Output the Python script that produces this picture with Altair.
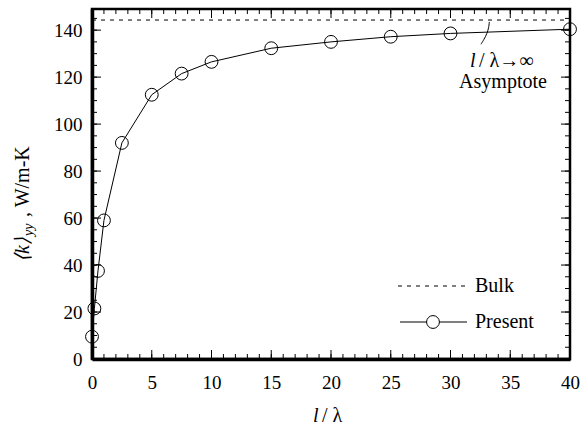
import altair as alt
import pandas as pd

# ---- data ----
ratio = [0, 0.2, 0.5, 1, 2.5, 5, 7.5, 10, 15, 20, 25, 30, 40]
k_present = [9.5, 21.5, 37.5, 59, 92, 112.5, 121.5, 126.5, 132.3, 135, 137.2, 138.6, 140.4]
k_bulk = 144.3
x_tick_labels = [0, 5, 10, 15, 20, 25, 30, 35, 40]
y_tick_labels = [0, 20, 40, 60, 80, 100, 120, 140]
x_minor = [v for v in range(1, 40)]
y_minor = [v for v in range(5, 149, 5)]
asym_x = [33.25, 33.2, 33.05, 32.8, 32.55]
asym_y = [143.5, 141.0, 138.5, 136.0, 134.0]

FONT = "Liberation Serif"
W, H = 478, 350

xscale = alt.Scale(domain=[0, 40], nice=False, zero=False)
yscale = alt.Scale(domain=[0, 149], nice=False, zero=False)
x_axis = alt.Axis(values=x_tick_labels, ticks=False, grid=False, title=None,
                  domain=True, domainColor="black", domainWidth=3.5,
                  labelFont=FONT, labelFontSize=19, labelColor="black",
                  labelPadding=29, labelBaseline="alphabetic", labelFlush=False)
y_axis = alt.Axis(values=y_tick_labels, ticks=False, grid=False, title=None,
                  domain=True, domainColor="black", domainWidth=3.5,
                  labelFont=FONT, labelFontSize=19, labelColor="black",
                  labelPadding=10, labelBaseline="middle", labelFlush=False)
X = alt.X("x:Q", scale=xscale, axis=x_axis)
Y = alt.Y("y:Q", scale=yscale, axis=y_axis)

present_df = pd.DataFrame({"x": ratio, "y": k_present})
bulk_df = pd.DataFrame({"x": [0], "x2": [40], "y": [k_bulk]})
asym_df = pd.DataFrame({"x": asym_x, "y": asym_y})
xt = pd.DataFrame({"x": x_minor, "len": [9 if v % 5 == 0 else 5 for v in x_minor]})
yt = pd.DataFrame({"y": y_minor, "len": [9 if v % 20 == 0 else 5 for v in y_minor]})
one = pd.DataFrame({"a": [0]})

bulk = alt.Chart(bulk_df).mark_rule(color="black", strokeWidth=1, strokeDash=[4, 5]).encode(
    x=X, x2="x2:Q", y=Y)
line = alt.Chart(present_df).mark_line(color="black", strokeWidth=1).encode(x=X, y=Y)
pts = alt.Chart(present_df).mark_point(shape="circle", filled=False, color="black",
                                        size=165, strokeWidth=1, opacity=1).encode(x=X, y=Y)
asym = alt.Chart(asym_df).mark_line(color="black", strokeWidth=1, interpolate="basis").encode(
    x=X, y=Y, order=alt.Order("y:Q"))

# inside ticks on all four sides
xt_bot = alt.Chart(xt).mark_rule(color="black", strokeWidth=1).encode(
    x=X, y=alt.value(H), y2=alt.value(H - 5))
xt_bot_major = alt.Chart(xt[xt["len"] == 9]).mark_rule(color="black", strokeWidth=1).encode(
    x=X, y=alt.value(H), y2=alt.value(H - 9))
xt_top = alt.Chart(xt).mark_rule(color="black", strokeWidth=1).encode(
    x=X, y=alt.value(0), y2=alt.value(5))
xt_top_major = alt.Chart(xt[xt["len"] == 9]).mark_rule(color="black", strokeWidth=1).encode(
    x=X, y=alt.value(0), y2=alt.value(9))
yt_left = alt.Chart(yt).mark_rule(color="black", strokeWidth=1).encode(
    y=Y, x=alt.value(0), x2=alt.value(5))
yt_left_major = alt.Chart(yt[yt["len"] == 9]).mark_rule(color="black", strokeWidth=1).encode(
    y=Y, x=alt.value(0), x2=alt.value(9))
yt_right = alt.Chart(yt).mark_rule(color="black", strokeWidth=1).encode(
    y=Y, x=alt.value(W), x2=alt.value(W - 5))
yt_right_major = alt.Chart(yt[yt["len"] == 9]).mark_rule(color="black", strokeWidth=1).encode(
    y=Y, x=alt.value(W), x2=alt.value(W - 9))

def txt(s, x, y, size=20, italic=False, align="left", angle=0):
    kw = dict(text=s, font=FONT, fontSize=size, color="black", align=align,
              baseline="alphabetic")
    if italic:
        kw["fontStyle"] = "italic"
    if angle:
        kw["angle"] = angle
    return alt.Chart(one).mark_text(**kw).encode(x=alt.value(x), y=alt.value(y))

# axis titles
xtitle = txt("l", 221, 413, italic=True) + txt("/ λ", 230, 413)
ytitle = (txt("⟨k⟩", -63, 253, italic=True, angle=270)
          + txt("yy", -59, 227, size=14, italic=True, angle=270)
          + txt(" ,  W/m-K", -63, 208, angle=270))

# annotation
annot = (txt("l", 378, 58, italic=True) + txt("/ λ→∞", 387, 58)
         + txt("Asymptote", 411, 79, align="center"))

# legend
leg_bulk = alt.Chart(one).mark_rule(color="black", strokeWidth=1, strokeDash=[4, 5]).encode(
    x=alt.value(306), x2=alt.value(375), y=alt.value(277))
leg_pres = alt.Chart(one).mark_rule(color="black", strokeWidth=1).encode(
    x=alt.value(308), x2=alt.value(375), y=alt.value(313))
leg_pt = alt.Chart(one).mark_point(shape="circle", filled=False, color="black", size=165,
                                   strokeWidth=1, opacity=1, fill="white").encode(
    x=alt.value(341), y=alt.value(313))
legend = leg_bulk + leg_pres + leg_pt + txt("Bulk", 383, 283) + txt("Present", 383, 319)

chart = alt.layer(
    bulk, line, pts, asym,
    xt_bot, xt_bot_major, xt_top, xt_top_major,
    yt_left, yt_left_major, yt_right, yt_right_major,
    xtitle, ytitle, annot, legend,
).properties(
    width=W, height=H,
    autosize=alt.AutoSizeParams(type="none"),
    padding={"left": 92, "top": 9, "right": 15, "bottom": 73},
    background="white",
).configure_view(stroke="black", strokeWidth=2.5)

chart.save("out.html", embed_options={"renderer": "svg", "actions": False})
